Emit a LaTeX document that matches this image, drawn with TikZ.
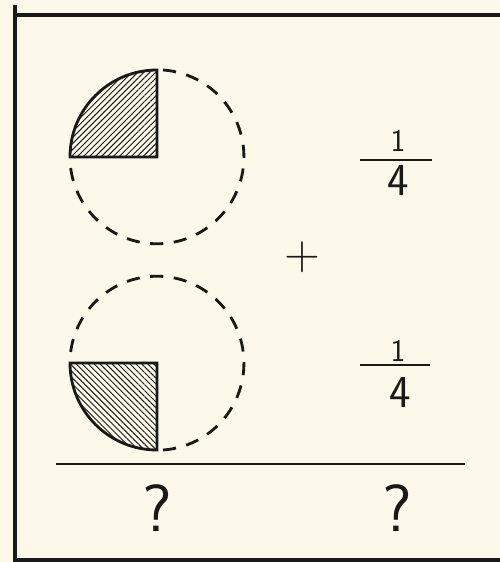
\documentclass[tikz,border=0pt]{standalone}
\usetikzlibrary{patterns.meta}
\usepackage{xcolor}
\definecolor{paper}{RGB}{252,248,234}
\definecolor{inkblack}{RGB}{25,25,25}

\begin{document}
\begin{tikzpicture}[
  x=0.02cm, y=0.02cm,
  frameline/.style={draw=inkblack, line width=2.2pt},
  dashring/.style={draw=inkblack, line width=1.6pt, dash pattern=on 7.5pt off 6pt},
  quarter/.style={draw=inkblack, line width=1.6pt},
  digit/.style={font=\sffamily\fontsize{26}{30}\selectfont, text=inkblack, inner sep=0pt},
  one/.style={font=\sffamily\fontsize{18}{22}\selectfont, text=inkblack, inner sep=0pt},
  ask/.style={font=\sffamily\fontsize{38}{42}\selectfont, text=inkblack, inner sep=0pt},
  bar/.style={draw=inkblack, line width=1.3pt}
]
\fill[paper] (0,0) rectangle (500,562);
\useasboundingbox (0,0) rectangle (500,562);

\draw[frameline] (15,557) -- (15,2) -- (500,2);
\draw[frameline] (15,547) -- (500,547);

\coordinate (topc) at (157,405);
\coordinate (botc) at (157,199);

\fill[pattern={Lines[angle=45, distance=2.4pt, line width=0.55pt]}, pattern color=inkblack]
  (topc) -- ++(0,87) arc[start angle=90, end angle=180, radius=87] -- cycle;
\draw[quarter]
  (topc) -- ++(0,87) arc[start angle=90, end angle=180, radius=87] -- cycle;
\draw[dashring] (topc) ++(6,87) arc[start angle=86, end angle=-176, radius=87];

\fill[pattern={Lines[angle=-45, distance=2.4pt, line width=0.55pt]}, pattern color=inkblack]
  (botc) -- ++(-87,0) arc[start angle=180, end angle=270, radius=87] -- cycle;
\draw[quarter]
  (botc) -- ++(-87,0) arc[start angle=180, end angle=270, radius=87] -- cycle;
\draw[dashring] (botc) ++(6,-87) arc[start angle=-86, end angle=176, radius=87];

\node[one] (numa) at (398,421) {1};
\node[digit] (dena) at (398,381) {4};
\coordinate (bara1) at (360,402);
\coordinate (bara2) at (432,402);
\draw[bar] (bara1) -- (bara2);

\node[digit, font=\sffamily\fontsize{28}{32}\selectfont] (plus) at (302,305) {+};

\node[one] (numb) at (398,211) {1};
\node[digit] (denb) at (400,169) {4};
\coordinate (barb1) at (360,197);
\coordinate (barb2) at (430,197);
\draw[bar] (barb1) -- (barb2);

\coordinate (suml) at (56,98);
\coordinate (sumr) at (465,98);
\draw[frameline, line width=1.6pt] (suml) -- (sumr);

\node[ask] (aska) at (157,54) {?};
\node[ask] (askb) at (397,54) {?};
\end{tikzpicture}
\end{document}
